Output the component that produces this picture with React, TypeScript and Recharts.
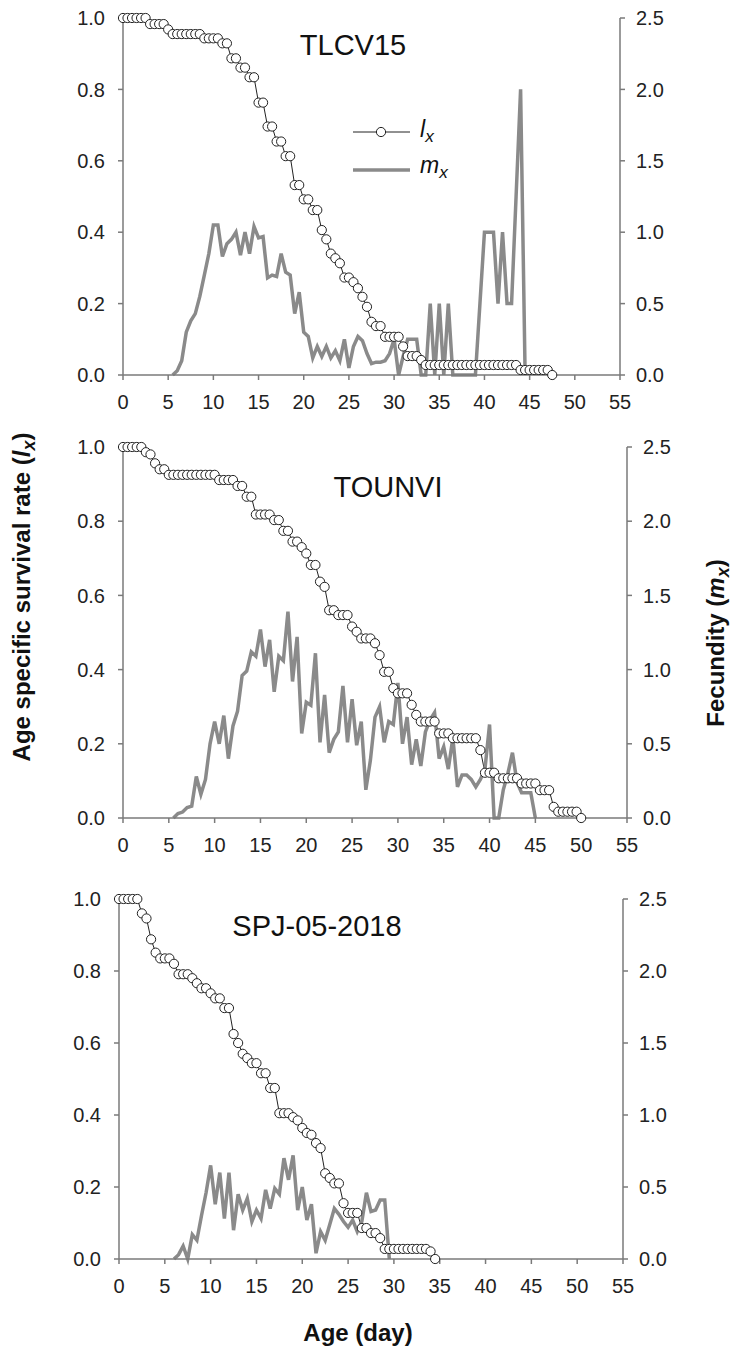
import { LineChart, Line, XAxis, YAxis } from 'recharts'

// age classes (day), half-day steps
const ages = [
  0, 0.5, 1, 1.5, 2, 2.5, 3, 3.5, 4, 4.5, 5, 5.5, 6, 6.5, 7, 7.5, 8, 8.5, 9, 9.5,
  10, 10.5, 11, 11.5, 12, 12.5, 13, 13.5, 14, 14.5, 15, 15.5, 16, 16.5, 17, 17.5, 18, 18.5, 19, 19.5,
  20, 20.5, 21, 21.5, 22, 22.5, 23, 23.5, 24, 24.5, 25, 25.5, 26, 26.5, 27, 27.5, 28, 28.5, 29, 29.5,
  30, 30.5, 31, 31.5, 32, 32.5, 33, 33.5, 34, 34.5, 35, 35.5, 36, 36.5, 37, 37.5, 38, 38.5, 39, 39.5,
  40, 40.5, 41, 41.5, 42, 42.5, 43, 43.5, 44, 44.5, 45, 45.5, 46, 46.5, 47, 47.5, 48, 48.5, 49, 49.5,
  50,
]

const xTicks = [0, 5, 10, 15, 20, 25, 30, 35, 40, 45, 50, 55]
const lxTicks = [0, 0.2, 0.4, 0.6, 0.8, 1.0]
const mxTicks = [0, 0.5, 1.0, 1.5, 2.0, 2.5]

// TLCV15
const tlcvLx = [
  1, 1, 1, 1, 1, 1, 0.983, 0.983, 0.983, 0.983, 0.968, 0.955, 0.955, 0.955, 0.955, 0.955, 0.955, 0.955, 0.943, 0.943,
  0.943, 0.943, 0.929, 0.929, 0.887, 0.887, 0.861, 0.861, 0.834, 0.834, 0.763, 0.763, 0.696, 0.696, 0.654, 0.654, 0.613, 0.613, 0.532, 0.532,
  0.492, 0.492, 0.462, 0.462, 0.406, 0.38, 0.34, 0.327, 0.313, 0.273, 0.273, 0.26, 0.243, 0.219, 0.191, 0.149, 0.137, 0.137, 0.107, 0.107,
  0.107, 0.107, 0.08, 0.053, 0.053, 0.053, 0.042, 0.028, 0.028, 0.028, 0.028, 0.028, 0.028, 0.028, 0.028, 0.028, 0.028, 0.028, 0.028, 0.028,
  0.028, 0.028, 0.028, 0.028, 0.028, 0.028, 0.028, 0.028, 0.014, 0.014, 0.014, 0.014, 0.014, 0.014, 0.014, 0,
]
const tlcvMx = [
  null, null, null, null, null, null, null, null, null, null, null, 0, 0.03, 0.1, 0.3, 0.38, 0.43, 0.55, 0.7, 0.85,
  1.05, 1.05, 0.83, 0.92, 0.95, 1.0, 0.84, 1.0, 0.85, 1.04, 0.96, 0.97, 0.68, 0.7, 0.69, 0.85, 0.72, 0.7, 0.43, 0.58,
  0.3, 0.27, 0.12, 0.2, 0.13, 0.2, 0.12, 0.17, 0.1, 0.25, 0.05, 0.2, 0.27, 0.24, 0.15, 0.08, 0.09, 0.09, 0.1, 0.15,
  0.25, 0, 0.13, 0.25, 0.25, 0.25, 0, 0, 0.5, 0, 0.5, 0, 0.5, 0, 0, 0, 0, 0, 0, 0.5,
  1.0, 1.0, 1.0, 0.5, 1.0, 0.5, 0.5, 1.25, 2.0, 0,
]

// TOUNVI
const tounviLx = [
  1, 1, 1, 1, 1, 0.986, 0.98, 0.956, 0.94, 0.94, 0.925, 0.925, 0.925, 0.925, 0.925, 0.925, 0.925, 0.925, 0.925, 0.925,
  0.925, 0.911, 0.911, 0.911, 0.911, 0.895, 0.895, 0.866, 0.866, 0.818, 0.818, 0.818, 0.818, 0.803, 0.803, 0.774, 0.774, 0.745, 0.745, 0.73,
  0.713, 0.682, 0.682, 0.637, 0.623, 0.56, 0.56, 0.547, 0.547, 0.547, 0.516, 0.502, 0.484, 0.484, 0.484, 0.471, 0.439, 0.394, 0.394, 0.35,
  0.336, 0.336, 0.336, 0.305, 0.278, 0.26, 0.26, 0.26, 0.26, 0.228, 0.228, 0.228, 0.215, 0.215, 0.215, 0.215, 0.215, 0.215, 0.183, 0.122,
  0.122, 0.122, 0.107, 0.107, 0.107, 0.107, 0.107, 0.093, 0.093, 0.093, 0.093, 0.075, 0.075, 0.075, 0.03, 0.017, 0.017, 0.017, 0.017, 0.017,
  0,
]
const tounviMx = [
  null, null, null, null, null, null, null, null, null, null, null, 0, 0.03, 0.04, 0.07, 0.08, 0.28, 0.16, 0.26, 0.5,
  0.65, 0.5, 0.69, 0.4, 0.62, 0.72, 0.96, 0.99, 1.12, 1.09, 1.27, 1.02, 1.2, 0.85, 1.09, 1.06, 1.39, 0.92, 1.22, 0.57,
  0.78, 0.76, 1.11, 0.51, 0.83, 0.44, 0.53, 0.58, 0.89, 0.51, 0.8, 0.49, 0.65, 0.19, 0.39, 0.68, 0.75, 0.51, 0.65, 0.63,
  0.91, 0.5, 0.68, 0.36, 0.53, 0.35, 0.58, 0.66, 0.71, 0.4, 0.48, 0.33, 0.54, 0.21, 0.29, 0.29, 0.26, 0.21, 0.26, 0.33,
  0.63, 0, 0, 0.19, 0.3, 0.44, 0.24, 0.17, 0.17, 0.17, 0,
]

// SPJ-05-2018
const spjLx = [
  1, 1, 1, 1, 1, 0.96, 0.946, 0.888, 0.851, 0.835, 0.835, 0.835, 0.82, 0.791, 0.791, 0.791, 0.78, 0.766, 0.752, 0.752,
  0.738, 0.724, 0.724, 0.697, 0.697, 0.625, 0.6, 0.57, 0.558, 0.544, 0.544, 0.516, 0.516, 0.475, 0.475, 0.405, 0.405, 0.405, 0.394, 0.385,
  0.364, 0.35, 0.345, 0.322, 0.308, 0.238, 0.225, 0.21, 0.21, 0.155, 0.128, 0.128, 0.128, 0.086, 0.086, 0.072, 0.072, 0.058, 0.028, 0.028,
  0.028, 0.028, 0.028, 0.028, 0.028, 0.028, 0.028, 0.028, 0.021, 0,
]
const spjMx = [
  null, null, null, null, null, null, null, null, null, null, null, null, 0, 0.03, 0.09, 0, 0.17, 0.13, 0.3, 0.46,
  0.65, 0.38, 0.6, 0.28, 0.6, 0.2, 0.45, 0.34, 0.42, 0.26, 0.34, 0.28, 0.48, 0.35, 0.49, 0.45, 0.7, 0.55, 0.72, 0.34,
  0.5, 0.27, 0.38, 0.04, 0.19, 0.13, 0.24, 0.35, 0.31, 0.26, 0.22, 0.27, 0.19, 0.26, 0.46, 0.33, 0.34, 0.41, 0.41, 0,
]

const FONT = '"Liberation Sans", Arial, Helvetica, sans-serif'
const AXIS = '#7a7a7a'
const TICK_TEXT = { fill: '#222', fontSize: 20, fontFamily: FONT }
const W = 733

interface PanelProps {
  title: string
  titleX: number
  titleY: number
  lx: (number | null)[]
  mx: (number | null)[]
  left: number
  right: number
  top: number
  bottom: number
}

function Panel({ title, titleX, titleY, lx, mx, left, right, top, bottom }: PanelProps) {
  const data = ages.map((age, i) => ({ age, lx: lx[i] ?? null, mx: mx[i] ?? null }))
  const padTop = 20
  const padBottom = 45
  const h = bottom - top + padTop + padBottom
  return (
    <>
      <div style={{ position: 'absolute', left: 0, top: top - padTop }}>
        <LineChart width={W} height={h} data={data} margin={{ top: padTop, right: 0, bottom: 0, left: 0 }}>
          <XAxis
            dataKey="age"
            type="number"
            domain={[0, 55]}
            ticks={xTicks}
            height={padBottom}
            stroke={AXIS}
            strokeWidth={1.5}
            tickSize={5}
            tickMargin={15}
            tick={TICK_TEXT}
            interval={0}
          />
          <YAxis
            yAxisId="l"
            width={left}
            domain={[0, 1]}
            ticks={lxTicks}
            stroke={AXIS}
            strokeWidth={1.5}
            tickSize={5}
            tickMargin={13}
            tick={TICK_TEXT}
            tickFormatter={(v: number) => v.toFixed(1)}
            interval={0}
          />
          <YAxis
            yAxisId="r"
            orientation="right"
            width={W - right}
            domain={[0, 2.5]}
            ticks={mxTicks}
            stroke={AXIS}
            strokeWidth={1.5}
            tickSize={5}
            tickMargin={11}
            tick={{ ...TICK_TEXT, textAnchor: 'start' }}
            tickFormatter={(v: number) => v.toFixed(1)}
            interval={0}
          />
          <Line
            yAxisId="l"
            dataKey="lx"
            type="linear"
            stroke="#222"
            strokeWidth={1}
            dot={{ r: 4.6, fill: '#fff', stroke: '#222', strokeWidth: 1 }}
            activeDot={false}
            isAnimationActive={false}
          />
          <Line
            yAxisId="r"
            dataKey="mx"
            type="linear"
            stroke="#8a8a8a"
            strokeWidth={3.5}
            dot={false}
            activeDot={false}
            isAnimationActive={false}
          />
        </LineChart>
      </div>
      <div
        style={{
          position: 'absolute',
          left: titleX,
          top: titleY,
          transform: 'translate(-50%, -50%)',
          fontFamily: FONT,
          fontSize: 29,
          color: '#111',
          whiteSpace: 'nowrap',
          lineHeight: 1,
        }}
      >
        {title}
      </div>
    </>
  )
}

const sub = { fontSize: '0.75em', verticalAlign: '-0.3em' }

export default function App() {
  return (
    <div style={{ position: 'absolute', left: 0, top: 0, width: W, height: 1350, background: '#fff', fontFamily: FONT }}>
      <Panel title="TLCV15" titleX={353} titleY={45} lx={tlcvLx} mx={tlcvMx} left={123} right={620} top={18} bottom={375} />
      <Panel title="TOUNVI" titleX={388} titleY={487} lx={tounviLx} mx={tounviMx} left={123} right={627} top={447} bottom={818} />
      <Panel title="SPJ-05-2018" titleX={317} titleY={926} lx={spjLx} mx={spjMx} left={119} right={623} top={899} bottom={1259} />

      {/* legend */}
      <svg style={{ position: 'absolute', left: 350, top: 120 }} width={64} height={60}>
        <line x1={3} y1={12} x2={60} y2={12} stroke="#222" strokeWidth={1} />
        <circle cx={31} cy={12} r={4.6} fill="#fff" stroke="#222" strokeWidth={1} />
        <line x1={3} y1={50} x2={60} y2={50} stroke="#8a8a8a" strokeWidth={3.5} />
      </svg>
      <div style={{ position: 'absolute', left: 420, top: 118, fontSize: 23, fontStyle: 'italic', color: '#111', lineHeight: 1 }}>
        l<span style={sub}>x</span>
      </div>
      <div style={{ position: 'absolute', left: 420, top: 154, fontSize: 23, fontStyle: 'italic', color: '#111', lineHeight: 1 }}>
        m<span style={sub}>x</span>
      </div>

      {/* axis titles */}
      <div
        style={{
          position: 'absolute',
          left: 24,
          top: 597,
          transform: 'translate(-50%, -50%) rotate(-90deg)',
          fontSize: 24,
          fontWeight: 'bold',
          color: '#111',
          whiteSpace: 'nowrap',
          lineHeight: 1,
        }}
      >
        Age specific survival rate (<i>l</i><i style={sub}>x</i>)
      </div>
      <div
        style={{
          position: 'absolute',
          left: 718,
          top: 643,
          transform: 'translate(-50%, -50%) rotate(-90deg)',
          fontSize: 24,
          fontWeight: 'bold',
          color: '#111',
          whiteSpace: 'nowrap',
          lineHeight: 1,
        }}
      >
        Fecundity (<i>m</i><i style={sub}>x</i>)
      </div>
      <div
        style={{
          position: 'absolute',
          left: 358,
          top: 1333,
          transform: 'translate(-50%, -50%)',
          fontSize: 24,
          fontWeight: 'bold',
          color: '#111',
          whiteSpace: 'nowrap',
          lineHeight: 1,
        }}
      >
        Age (day)
      </div>
    </div>
  )
}
